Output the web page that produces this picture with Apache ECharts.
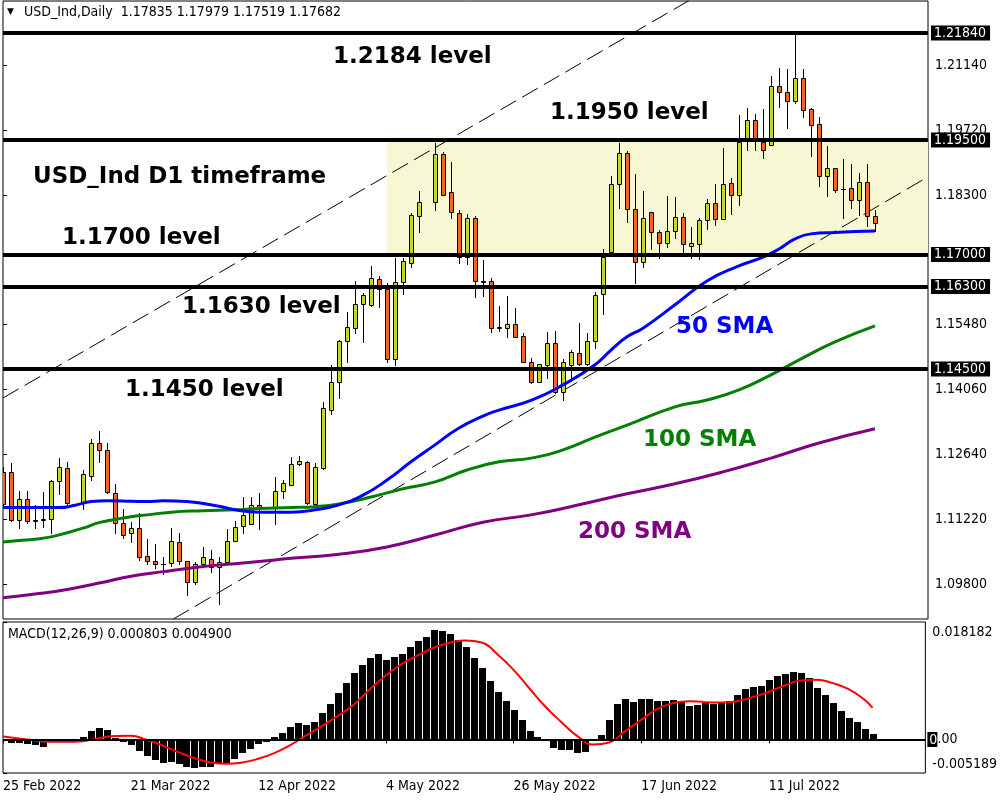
<!DOCTYPE html>
<html><head><meta charset="utf-8">
<script src="https://cdn.jsdelivr.net/npm/echarts@6/dist/echarts.min.js"></script>
<style>html,body{margin:0;padding:0;background:#fff}#c{width:1000px;height:800px}</style>
</head><body><div id="c"></div><script>
// ---------- data ----------
const tickLabels = ['25 Feb 2022','21 Mar 2022','12 Apr 2022','4 May 2022','26 May 2022','17 Jun 2022','11 Jul 2022'];
const tickIndex = [0,16,32,48,64,80,96];
const priceTicks = [1.098,1.1122,1.1264,1.1406,1.1548,1.183,1.1972,1.2114];
const levels = [1.2184,1.195,1.17,1.163,1.145];
const zoneLow = 1.17, zoneHigh = 1.195, zoneStartIndex = 48;

const opens = [
1.1225,1.1225,1.1120,1.1165,1.1118,1.1120,1.1121,1.1204,1.1233,null,
1.1156,1.1217,1.1287,1.1272,1.1178,1.1113,1.1091,1.1102,1.1041,1.1030,
1.1024,1.1025,1.1071,1.1030,1.0985,1.1023,1.1034,1.1018,1.1027,1.1075,
1.1107,1.1110,1.1152,null,1.1149,1.1184,1.1196,1.1242,1.1246,1.1155,
1.1233,1.1360,1.1421,1.1511,1.1540,1.1592,1.1590,1.1646,1.1624,1.1471,
1.1639,1.1681,1.1784,null,1.1814,1.1920,1.1836,1.1790,1.1694,1.1779,
1.1643,1.1643,1.1540,1.1539,1.1547,1.1522,1.1464,1.1422,1.1459,1.1506,
1.1400,1.1459,1.1484,1.1460,1.1511,1.1613,1.1706,1.1855,1.1921,1.1799,
1.1683,1.1792,1.1748,1.1724,1.1751,1.1781,1.1719,1.1722,1.1775,1.1812,
1.1777,1.1857,1.1831,1.1954,1.1994,1.1946,1.1939,1.2068,1.2056,1.2035,
1.2085,1.2017,1.1984,1.1871,1.1888,1.1843,1.1846,1.1819,1.1859,1.17835];
const closes = [
1.1155,1.1120,1.1165,1.1118,1.1119,1.1121,1.1205,1.1235,1.1156,null,
1.1220,1.1287,1.1272,1.1180,1.1113,1.1086,1.1102,1.1040,1.1030,1.1024,
1.1023,1.1073,1.1030,1.0985,1.1023,1.1038,1.1018,1.1027,1.1075,1.1105,
1.1130,1.1152,1.1147,null,1.1183,1.1200,1.1242,1.1249,1.1156,1.1235,
1.1364,1.1421,1.1511,1.1542,1.1592,1.1611,1.1648,1.1624,1.1471,1.1640,
1.1686,1.1786,1.1814,null,1.1920,1.1831,1.1792,1.1694,1.1779,1.1643,
1.1639,1.1539,1.1541,1.1547,1.1520,1.1464,1.1422,1.1460,1.1506,1.1400,
1.1464,1.1486,1.1460,1.1511,1.1611,1.1695,1.1855,1.1921,1.1799,1.1683,
1.1779,1.1748,1.1724,1.1751,1.1781,1.1722,1.1724,1.1775,1.1812,1.1777,
1.1854,1.1831,1.1946,1.1994,1.1954,1.1928,1.2068,1.2054,1.2035,1.2085,
1.2016,1.1983,1.1871,1.1888,1.1841,1.1842,1.1819,1.1859,1.1784,1.17682];
const highs = [
1.1235,1.1244,1.1183,1.1183,1.1153,1.1182,1.1207,1.1255,1.1246,null,
1.1229,1.1297,1.1314,1.1287,1.1198,1.1143,1.1116,1.1136,1.1078,1.1067,
1.1040,1.1102,1.1092,1.1030,1.1027,1.1060,1.1054,1.1038,1.1100,1.1118,
1.1171,1.1169,1.1178,null,1.1214,1.1207,1.1258,1.1260,1.1248,1.1244,
1.1378,1.1459,1.1513,1.1575,1.1642,1.1615,1.1675,1.1654,1.1637,1.1692,
1.1693,1.1790,1.1839,null,1.1944,1.1923,1.1901,1.1797,1.1788,1.1784,
1.1688,1.1648,1.1587,1.1609,1.1582,1.1528,1.1473,1.1461,1.1531,1.1533,
1.1471,1.1491,1.1551,1.1529,1.1617,1.1713,1.1872,1.1944,1.1926,1.1876,
1.1839,1.1793,1.1753,1.1828,1.1826,1.1791,1.1759,1.1779,1.1821,1.1853,
1.1933,1.1868,1.2005,1.2019,1.2006,1.2017,1.2090,1.2107,1.2105,1.2184,
1.2105,1.2019,1.2000,1.1937,1.1889,1.1908,1.1898,1.1877,1.1898,1.17979];
const lows = [
1.1150,1.1118,1.1102,1.1113,1.1102,1.1105,1.1091,1.1177,1.1155,null,
1.1143,1.1207,1.1247,1.1178,1.1092,1.1080,1.1072,1.1032,1.1023,1.1014,
1.1001,1.1019,1.1024,1.0957,1.0981,1.1018,1.1006,1.0936,1.1025,1.1075,
1.1091,1.1110,1.1100,null,1.1111,1.1167,1.1196,1.1240,1.1155,1.1150,
1.1231,1.1351,1.1386,1.1466,1.1528,1.1508,1.1588,1.1585,1.1464,1.1459,
1.1613,1.1673,1.1748,null,1.1797,1.1831,1.1779,1.1681,1.1679,1.1608,
1.1610,1.1530,1.1532,1.1520,1.1519,1.1464,1.1420,1.1422,1.1429,1.1397,
1.1381,1.1424,1.1459,1.1459,1.1496,1.1571,1.1706,1.1802,1.1770,1.1637,
1.1673,1.1711,1.1693,1.1717,1.1735,1.1706,1.1692,1.1689,1.1755,1.1764,
1.1777,1.1788,1.1808,1.1928,1.1928,1.1910,1.1939,1.2023,1.1976,1.2030,
1.2001,1.1915,1.1850,1.1828,1.1837,1.1779,1.1801,1.1786,1.1762,1.17519];

const sma50 = [[0,1.1147],[4,1.1147],[7,1.1147],[9,1.1152],[11,1.1160],[13,1.1162],[16,1.1161],[18,1.1160],[20,1.1162],[23,1.1160],[27,1.1150],[29,1.1142],[32,1.1137],[36,1.1137],[39,1.1142],[42,1.1153],[45,1.1174],[48,1.1207],[51,1.1247],[54,1.1284],[57,1.1321],[60,1.1347],[62,1.1360],[66,1.1381],[70,1.1415],[74,1.1459],[76,1.1491],[78,1.1520],[80,1.1539],[84,1.1590],[88,1.1642],[92,1.1675],[95,1.1694],[97,1.1712],[99,1.1734],[101,1.1745],[104,1.1748],[109,1.1751]];
const sma100 = [[0,1.1072],[2,1.1075],[4,1.1078],[6,1.1083],[8,1.1092],[10,1.1102],[12,1.1114],[14,1.1121],[16,1.1127],[18,1.1131],[21,1.1137],[25,1.1140],[29,1.1142],[32,1.1145],[36,1.1147],[39,1.1149],[42,1.1155],[46,1.1170],[50,1.1188],[54,1.1203],[58,1.1229],[62,1.1247],[66,1.1255],[70,1.1273],[74,1.1301],[78,1.1327],[84,1.1367],[88,1.1382],[92,1.1404],[96,1.1437],[100,1.1474],[104,1.1509],[109,1.1544]];
const sma200 = [[0,1.0950],[4,1.0958],[8,1.0968],[12,1.0982],[16,1.0997],[20,1.1007],[24,1.1016],[28,1.1023],[32,1.1029],[36,1.1036],[42,1.1045],[48,1.1061],[54,1.1087],[60,1.1115],[66,1.1131],[72,1.1153],[78,1.1177],[84,1.1199],[90,1.1225],[96,1.1255],[102,1.1288],[109,1.1319]];

const channelUpper = [[0,1.13864],[85.875,1.2256]];
const channelLower = [[21.3,1.09035],[115.625,1.18697]];

const macdHist = [
-0.00015,-0.00052,-0.00052,-0.00077,-0.00093,-0.00114,-0.00036,-0.0001,-0.0001,0.00015,
0.00036,0.00129,0.00175,0.00144,0.00026,-0.00036,-0.00088,-0.00181,-0.00258,-0.0032,
-0.00361,-0.00351,-0.00387,-0.00428,-0.00439,-0.00423,-0.00423,-0.00387,-0.00361,-0.00299,
-0.00217,-0.00144,-0.00077,-0.00036,0.00036,0.00098,0.00191,0.00253,0.00222,0.00268,
0.00408,0.00547,0.00717,0.00872,0.01022,0.01156,0.01259,0.01321,0.01228,0.01275,
0.01321,0.01429,0.01522,0.01584,0.01692,0.01677,0.01625,0.01538,0.01429,0.01259,
0.01099,0.00903,0.00733,0.00593,0.00449,0.00299,0.00129,0.00036,0.00005,-0.00129,
-0.0017,-0.0017,-0.00206,-0.00191,-0.0003,0.00067,0.00304,0.00542,0.00624,0.00583,
0.00624,0.00624,0.00593,0.00593,0.00609,0.00593,0.00516,0.00537,0.00562,0.00552,
0.00568,0.00593,0.00686,0.00779,0.00815,0.00826,0.00918,0.00986,0.01006,0.01042,
0.01022,0.00955,0.008,0.00691,0.00557,0.00439,0.0033,0.00273,0.00165,0.000803];
const macdSignal = [[0,0.00046],[2,0.00015],[4,-0.00015],[6,-0.00036],[8,-0.00036],[10,-0.00026],[12,0.00021],[14,0.00052],[16,0.00057],[18,-0.00005],[20,-0.00093],[22,-0.00196],[24,-0.00289],[26,-0.00356],[28,-0.00377],[30,-0.00356],[32,-0.00299],[34,-0.00212],[36,-0.00088],[38,0.00062],[40,0.00212],[42,0.00366],[44,0.00542],[46,0.00779],[48,0.00991],[50,0.01171],[52,0.013],[54,0.01419],[56,0.01496],[58,0.01533],[60,0.01502],[62,0.01316],[64,0.01078],[66,0.00789],[68,0.00506],[70,0.00268],[72,0.00052],[74,-0.00077],[76,-0.00046],[78,0.00129],[80,0.00304],[82,0.0047],[84,0.00562],[86,0.00593],[88,0.00578],[90,0.00573],[92,0.00593],[94,0.00655],[96,0.00738],[98,0.00836],[100,0.00913],[102,0.00924],[104,0.00872],[106,0.00779],[108,0.00614],[109,0.0049]];
const macdMin = -0.005189, macdMax = 0.018182;

// ---------- build ----------
const UI_FONT = "'DejaVu Sans Condensed','DejaVu Sans',sans-serif";
const BIG_FONT = "bold 23px 'DejaVu Sans', sans-serif";
const GREEN = '#C6D62E', ORANGE = '#F26524';
const X_MAX = 115.625;
const last = closes.length - 1;

const candleData = [];
for (let i = 0; i < opens.length; i++) {
  if (opens[i] == null) continue;
  candleData.push([i, opens[i], closes[i], lows[i], highs[i]]);
}
const histData = macdHist.map((v, i) => [i, v]);

function renderCandle(params, api) {
  const i = api.value(0), o = api.value(1), c = api.value(2), l = api.value(3), h = api.value(4);
  const po = api.coord([i, o]), pc = api.coord([i, c]), pl = api.coord([i, l]), ph = api.coord([i, h]);
  const cx = Math.round(po[0]);
  const top = Math.round(Math.min(po[1], pc[1])), bot = Math.round(Math.max(po[1], pc[1]));
  const children = [{
    type: 'line', shape: {x1: cx + 0.5, y1: Math.round(ph[1]), x2: cx + 0.5, y2: Math.round(pl[1]) + 1},
    style: {stroke: '#000', lineWidth: 1}
  }];
  if (bot - top < 1) {
    children.push({type: 'line', shape: {x1: cx - 2, y1: top + 0.5, x2: cx + 3, y2: top + 0.5}, style: {stroke: '#000', lineWidth: 1}});
  } else {
    children.push({type: 'rect', shape: {x: cx - 1.5, y: top + 0.5, width: 4, height: bot - top},
      style: {fill: c >= o ? GREEN : ORANGE, stroke: '#000', lineWidth: 1}});
  }
  return {type: 'group', children};
}
function renderHist(params, api) {
  const i = api.value(0), v = api.value(1);
  const p0 = api.coord([i, 0]), p1 = api.coord([i, v]);
  const cx = Math.round(p0[0]);
  const y0 = Math.round(p0[1]), y1 = Math.round(p1[1]);
  return {type: 'rect', shape: {x: cx - 3, y: Math.min(y0, y1), width: 7, height: Math.max(1, Math.abs(y1 - y0))},
    style: {fill: '#000'}};
}

const levelMarks = levels.map(v => ({yAxis: v}));
levelMarks.push({yAxis: closes[last], lineStyle: {opacity: 0}});

const boxLabel = {show: true, position: 'end', distance: 3, color: '#fff', backgroundColor: '#000',
  padding: [1, 4, 0, 3], fontSize: 14, fontFamily: UI_FONT, formatter: p => Number(p.value).toFixed(5)};

const chart = echarts.init(document.getElementById('c'));
chart.setOption({
  animation: false,
  backgroundColor: '#fff',
  grid: [
    {left: 3, top: 1, width: 925, height: 618, show: true, borderColor: '#000', borderWidth: 1},
    {left: 3, top: 622, width: 925, height: 151, show: true, borderColor: '#000', borderWidth: 1}
  ],
  xAxis: [
    {type: 'value', gridIndex: 0, min: 0, max: X_MAX, show: false},
    {type: 'value', gridIndex: 1, min: 0, max: X_MAX, splitLine: {show: false},
      axisLine: {show: false},
      axisTick: {show: true, length: 4, lineStyle: {color: '#000'}, customValues: tickIndex},
      axisLabel: {customValues: tickIndex, formatter: v => tickLabels[tickIndex.indexOf(v)] || '',
        align: 'left', margin: 6, color: '#000', fontSize: 14, fontFamily: UI_FONT}}
  ],
  yAxis: [
    {type: 'value', gridIndex: 0, position: 'right', min: 1.09035, max: 1.22538, splitLine: {show: false},
      axisLine: {show: false},
      axisTick: {show: true, length: 4, lineStyle: {color: '#000'}, customValues: priceTicks},
      axisLabel: {customValues: priceTicks, formatter: v => v.toFixed(5), margin: 7, color: '#000', fontSize: 14, fontFamily: UI_FONT}},
    {type: 'value', gridIndex: 1, position: 'right', min: macdMin, max: macdMax, splitLine: {show: false},
      axisLine: {show: false},
      axisTick: {show: true, length: 4, lineStyle: {color: '#000'}, customValues: [macdMin, 0, macdMax]},
      axisLabel: {customValues: [macdMin, macdMax], margin: 7, color: '#000', fontSize: 14, fontFamily: UI_FONT,
        formatter: v => v > 0 ? '{mx|' + macdMax.toFixed(6) + '}' : '{mn|' + macdMin.toFixed(6) + '}',
        rich: {mx: {padding: [20, 0, 0, 0], fontSize: 14, fontFamily: UI_FONT}, mn: {padding: [0, 0, 18, 0], fontSize: 14, fontFamily: UI_FONT}}}}
  ],
  series: [
    {type: 'line', xAxisIndex: 0, yAxisIndex: 0, data: [], z: 1, silent: true,
      markArea: {silent: true, itemStyle: {color: '#F7F7D4'},
        data: [[{xAxis: zoneStartIndex, yAxis: zoneLow}, {xAxis: X_MAX, yAxis: zoneHigh}]]}},
    {type: 'line', xAxisIndex: 0, yAxisIndex: 0, data: channelUpper, z: 2, symbol: 'none', silent: true,
      lineStyle: {color: '#000', width: 1, type: [18, 7]}},
    {type: 'line', xAxisIndex: 0, yAxisIndex: 0, data: channelLower, z: 2, symbol: 'none', silent: true,
      lineStyle: {color: '#000', width: 1, type: [18, 7]}},
    {type: 'custom', xAxisIndex: 0, yAxisIndex: 0, data: candleData, renderItem: renderCandle, z: 3, clip: true,
      encode: {x: 0, y: [1, 2, 3, 4]}},
    {type: 'line', xAxisIndex: 0, yAxisIndex: 0, data: sma200, z: 4, symbol: 'none', smooth: true, silent: true,
      lineStyle: {color: '#800080', width: 3}},
    {type: 'line', xAxisIndex: 0, yAxisIndex: 0, data: sma100, z: 4, symbol: 'none', smooth: true, silent: true,
      lineStyle: {color: '#008000', width: 3}},
    {type: 'line', xAxisIndex: 0, yAxisIndex: 0, data: sma50, z: 4, symbol: 'none', smooth: true, silent: true,
      lineStyle: {color: '#0000FF', width: 3}},
    {type: 'line', xAxisIndex: 0, yAxisIndex: 0, data: [], z: 5, silent: true,
      markLine: {silent: true, symbol: ['none', 'none'], precision: 5, lineStyle: {color: '#000', width: 4, type: 'solid'},
        label: boxLabel, data: levelMarks}},
    {type: 'custom', xAxisIndex: 1, yAxisIndex: 1, data: histData, renderItem: renderHist, z: 3, clip: true,
      encode: {x: 0, y: 1},
      markLine: {silent: true, symbol: ['none', 'none'], precision: 2, lineStyle: {color: '#000', width: 2, type: 'solid'},
        label: {show: true, position: 'end', distance: 2, fontSize: 14, fontFamily: UI_FONT,
          formatter: '{b|0}{n|.00}',
          rich: {b: {backgroundColor: '#000', color: '#fff', padding: [1, 0, 0, 2], fontSize: 14, fontFamily: UI_FONT},
                 n: {color: '#000', fontSize: 14, fontFamily: UI_FONT}}},
        data: [{yAxis: 0}]}},
    {type: 'line', xAxisIndex: 1, yAxisIndex: 1, data: macdSignal, z: 4, symbol: 'none', smooth: true, silent: true,
      lineStyle: {color: '#FF0000', width: 2}}
  ],
  graphic: [
    {type: 'text', x: 7, y: 12, z: 100, style: {text: '▼', font: "9px 'DejaVu Sans'", fill: '#000', verticalAlign: 'middle'}},
    {type: 'text', x: 24, y: 12, z: 100, style: {text: 'USD_Ind,Daily  ' + [opens[last], highs[last], lows[last], closes[last]].map(v => v.toFixed(5)).join(' '),
      font: "14px " + UI_FONT, fill: '#000', verticalAlign: 'middle'}},
    {type: 'text', x: 8, y: 634, z: 100, style: {text: 'MACD(12,26,9) ' + macdHist[last].toFixed(6) + ' ' + macdSignal[macdSignal.length - 1][1].toFixed(6),
      font: "14px " + UI_FONT, fill: '#000', verticalAlign: 'middle'}},
    {type: 'text', x: 333, y: 57, z: 100, style: {text: '1.2184 level', font: BIG_FONT, fill: '#000', verticalAlign: 'middle'}},
    {type: 'text', x: 550, y: 113, z: 100, style: {text: '1.1950 level', font: BIG_FONT, fill: '#000', verticalAlign: 'middle'}},
    {type: 'text', x: 33, y: 177, z: 100, style: {text: 'USD_Ind D1 timeframe', font: BIG_FONT, fill: '#000', verticalAlign: 'middle'}},
    {type: 'text', x: 62, y: 238, z: 100, style: {text: '1.1700 level', font: BIG_FONT, fill: '#000', verticalAlign: 'middle'}},
    {type: 'text', x: 182, y: 307, z: 100, style: {text: '1.1630 level', font: BIG_FONT, fill: '#000', verticalAlign: 'middle'}},
    {type: 'text', x: 125, y: 390, z: 100, style: {text: '1.1450 level', font: BIG_FONT, fill: '#000', verticalAlign: 'middle'}},
    {type: 'text', x: 676, y: 327, z: 100, style: {text: '50 SMA', font: BIG_FONT, fill: '#0000FF', verticalAlign: 'middle'}},
    {type: 'text', x: 643, y: 440, z: 100, style: {text: '100 SMA', font: BIG_FONT, fill: '#008000', verticalAlign: 'middle'}},
    {type: 'text', x: 578, y: 532, z: 100, style: {text: '200 SMA', font: BIG_FONT, fill: '#800080', verticalAlign: 'middle'}}
  ]
});
</script></body></html>
